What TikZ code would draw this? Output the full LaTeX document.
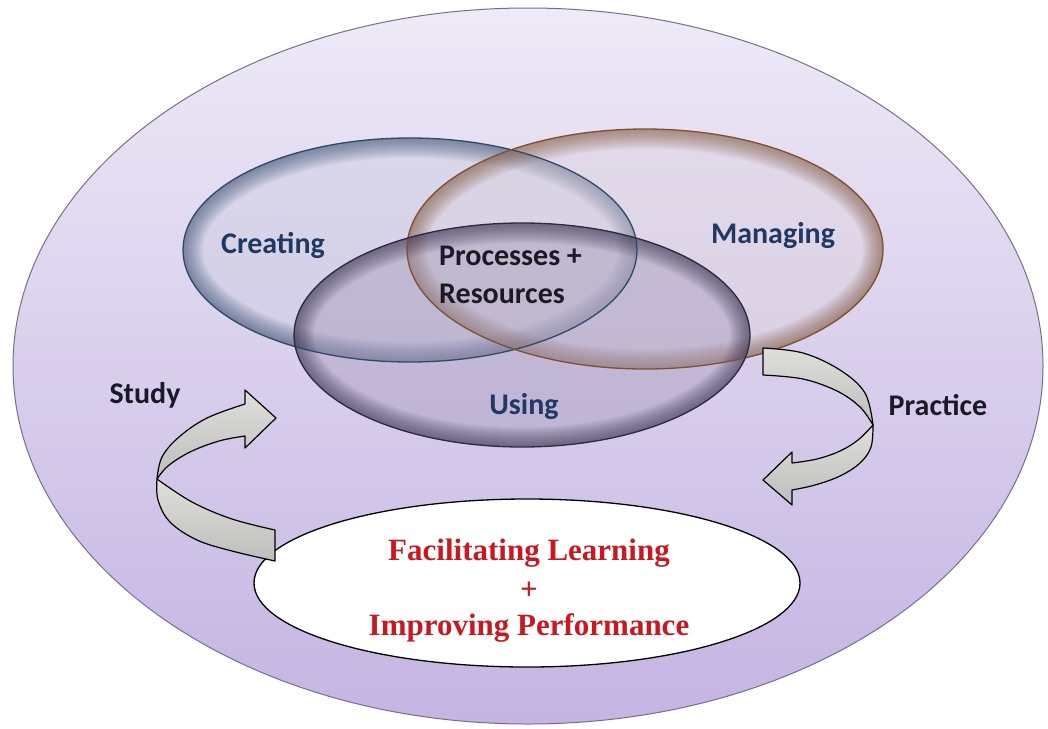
\documentclass[tikz,border=0pt]{standalone}
\usepackage{fontspec}
\setmainfont{Liberation Serif}
\newfontfamily\labelfont{Carlito}

\definecolor{outerTop}{RGB}{238,234,247}
\definecolor{outerBot}{RGB}{196,180,226}
\definecolor{outerLine}{RGB}{120,110,140}
\definecolor{creatEdge}{RGB}{48,72,106}
\definecolor{creatFill}{RGB}{200,204,222}
\definecolor{manEdge}{RGB}{125,80,48}
\definecolor{manFill}{RGB}{220,210,218}
\definecolor{useEdge}{RGB}{46,40,66}
\definecolor{useFill}{RGB}{160,148,180}
\definecolor{navyText}{RGB}{31,56,100}
\definecolor{darkText}{RGB}{26,26,38}
\definecolor{goalRed}{RGB}{200,25,35}
\definecolor{bandLight}{RGB}{222,222,218}
\definecolor{bandDark}{RGB}{190,190,186}

\tikzset{
  lab/.style={font=\labelfont\bfseries\fontsize{30}{34}\selectfont, inner sep=0pt},
  goaltext/.style={font=\bfseries\fontsize{31}{36}\selectfont, text=goalRed, inner sep=0pt, anchor=base},
  band/.style={draw=black, line width=1.2pt, line join=round, top color=bandLight, bottom color=bandDark},
}

% tinted disc with a soft darker rim
\newcommand{\vennfill}[5]{%
  \fill[#4, fill opacity=0.4] #1 ellipse [x radius=#2, y radius=#3];
  \begin{scope}
    \clip #1 ellipse [x radius=#2, y radius=#3];
    \foreach \w in {2,4,...,40}{
      \draw[#5, line width=\w pt, opacity=0.036] #1 ellipse [x radius=#2, y radius=#3];
    }
  \end{scope}
}

\begin{document}
\begin{tikzpicture}[x=1pt, y=-1pt]
\useasboundingbox (0,0) rectangle (1048,728);
\fill[white] (0,0) rectangle (1048,728);

% outer field
\shade[top color=outerTop, bottom color=outerBot] (528,366) ellipse [x radius=515pt, y radius=358pt];
\draw[outerLine, line width=1pt] (528,366) ellipse [x radius=515pt, y radius=358pt];

% three overlapping sets
\vennfill{(410,250)}{227pt}{112pt}{creatFill}{creatEdge}
\vennfill{(645,249)}{238pt}{120pt}{manFill}{manEdge}
\vennfill{(522,335)}{228pt}{112pt}{useFill}{useEdge}
\draw[creatEdge, line width=1.3pt] (410,250) ellipse [x radius=227pt, y radius=112pt];
\draw[manEdge, line width=1.3pt] (645,249) ellipse [x radius=238pt, y radius=120pt];
\draw[useEdge, line width=1.3pt] (522,335) ellipse [x radius=228pt, y radius=112pt];

% goal ellipse
\draw[black, line width=1.3pt, fill=white] (527,583) ellipse [x radius=273pt, y radius=84pt];

% Study ribbon arrow
\draw[band] plot[smooth, tension=0.6] coordinates {(275,530) (232,519) (192,502) (157,479)}
  -- plot[smooth, tension=0.6] coordinates {(157,479) (158,500) (170,522) (197,540) (232,551) (275,561)} -- cycle;
\draw[band] plot[smooth, tension=0.6] coordinates {(157,479) (162,457) (179,437) (207,418) (245,404)}
  -- (245,390) -- (276,418) -- (245,448) -- (245,436)
  -- plot[smooth, tension=0.6] coordinates {(245,436) (219,441) (190,452) (168,466) (157,479)} -- cycle;

% Practice ribbon arrow
\draw[band] plot[smooth, tension=0.6] coordinates {(763,348) (803,353) (840,370) (865,393) (873,425)}
  -- plot[smooth, tension=0.6] coordinates {(873,425) (860,407) (837,391) (803,379) (763,375)} -- cycle;
\draw[band] plot[smooth, tension=0.6] coordinates {(873,425) (871,447) (860,463) (840,476) (815,485) (792,490)}
  -- (792,505) -- (763,480) -- (792,452) -- (792,463)
  -- plot[smooth, tension=0.6] coordinates {(792,463) (817,459) (840,451) (858,440) (873,425)} -- cycle;

% labels
\node[lab, text=navyText, anchor=base] (creating) at (273,253) {Creating};
\node[lab, text=navyText, anchor=base] (managing) at (773,243) {Managing};
\node[lab, text=navyText, anchor=base] (using) at (524,414) {Using};
\node[lab, text=darkText, anchor=base west] (processes) at (439,265) {Processes +};
\node[lab, text=darkText, anchor=base west] (resources) at (439,303) {Resources};
\node[lab, text=darkText, anchor=base] (study) at (145,403) {Study};
\node[lab, text=darkText, anchor=base] (practice) at (938,415) {Practice};

\node[goaltext] (facilitating) at (529,560) {Facilitating Learning};
\node[goaltext] (plus) at (529,599) {+};
\node[goaltext] (improving) at (529,635) {Improving Performance};
\end{tikzpicture}
\end{document}
